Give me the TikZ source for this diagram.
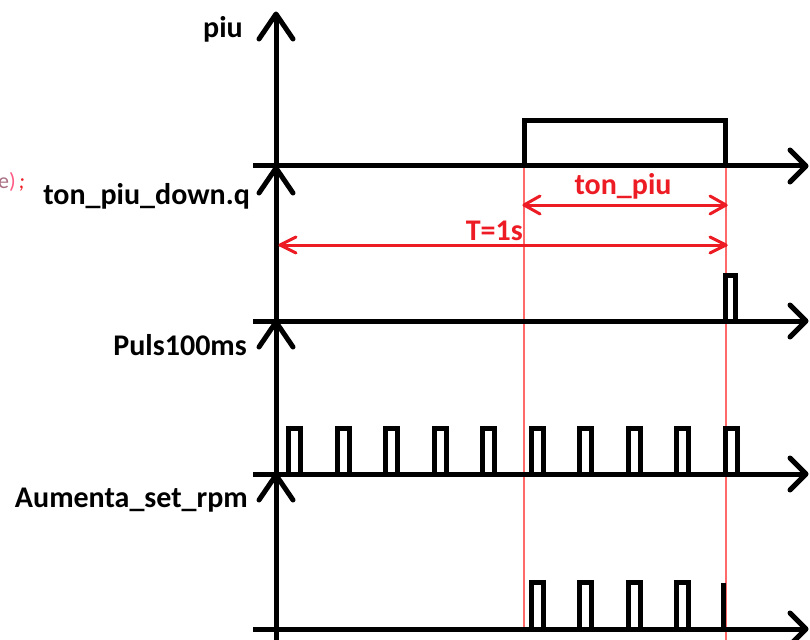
\documentclass[tikz,border=0pt]{standalone}
\usepackage{fontspec}
\setmainfont{Carlito}
\definecolor{pred}{RGB}{237,28,36}
\definecolor{pline}{RGB}{255,105,105}
\definecolor{pgray}{RGB}{170,110,130}
\definecolor{ppink}{RGB}{255,90,130}
\begin{document}
\begin{tikzpicture}[x=1pt,y=-1pt,
  axis/.style={line width=5pt,black},
  head/.style={line width=5pt,black,line cap=round,line join=round},
  wave/.style={line width=5pt,black,line join=miter},
  guide/.style={line width=1.2pt,pline},
  dim/.style={line width=3pt,pred,line cap=round,line join=round},
  lbl/.style={inner sep=0pt,anchor=base east,font=\fontsize{30}{36}\selectfont\bfseries},
  rlbl/.style={inner sep=0pt,anchor=base,text=pred,font=\fontsize{30}{36}\selectfont\bfseries}]
\useasboundingbox (0,0) rectangle (810,639);

% red guide lines
\draw[guide] (524,166) -- (524,630);
\draw[guide] (726,166) -- (726,640);

% vertical axis
\draw[axis] (276,16) -- (276,645);
% horizontal axes
\foreach \y in {166,321,474,629}{
  \draw[axis] (253,\y) -- (805,\y);
  \draw[head] (790,\y-16) -- (806,\y) -- (790,\y+16);
}
% up arrow heads
\foreach \t in {14,168,322,475}{
  \draw[head] (259,\t+25) -- (276,\t) -- (293,\t+25);
}

% labels
\node[lbl] (lpiu) at (243,38) {piu};
\node[lbl] (lton) at (250,204) {ton\_piu\_down.q};
\node[lbl] (lpuls) at (247,355) {Puls100ms};
\node[lbl] (laum) at (248,507) {Aumenta\_set\_rpm};
\node[inner sep=0pt,anchor=base west,font=\fontsize{22}{24}\selectfont] (code) at (-2,188)
  {\textcolor{pgray}{e}\textcolor{ppink}{)}\kern3pt\textcolor{pred}{\itshape ;}};

% piu waveform
\draw[wave] (524,166) -- (524,121) -- (725,121) -- (725,166);
% ton_piu_down.q pulse
\draw[wave] (725,321) -- (725,275) -- (735.5,275) -- (735.5,321);
% Puls100ms pulses
\foreach \i in {0,...,9}{
  \draw[wave] (288.5+48.5*\i,474) -- (288.5+48.5*\i,428.5) -- (300.5+48.5*\i,428.5) -- (300.5+48.5*\i,474);
}
% Aumenta_set_rpm pulses
\foreach \i in {5,...,8}{
  \draw[wave] (288.5+48.5*\i,629) -- (288.5+48.5*\i,582.5) -- (300.5+48.5*\i,582.5) -- (300.5+48.5*\i,629);
}
\draw[wave] (723.5,629) -- (723.5,582.5);

% dimension arrows
\draw[dim] (524,205) -- (726,205);
\draw[dim] (540,196) -- (524,205) -- (540,214);
\draw[dim] (710,196) -- (726,205) -- (710,214);
\node[rlbl] (tonpiu) at (623,194) {ton\_piu};
\draw[dim] (280,245) -- (726,245);
\draw[dim] (296,237) -- (280,245) -- (296,253);
\draw[dim] (710,237) -- (726,245) -- (710,253);
\node[rlbl,anchor=base east] (T1s) at (523,240) {T=1s};
\end{tikzpicture}
\end{document}
